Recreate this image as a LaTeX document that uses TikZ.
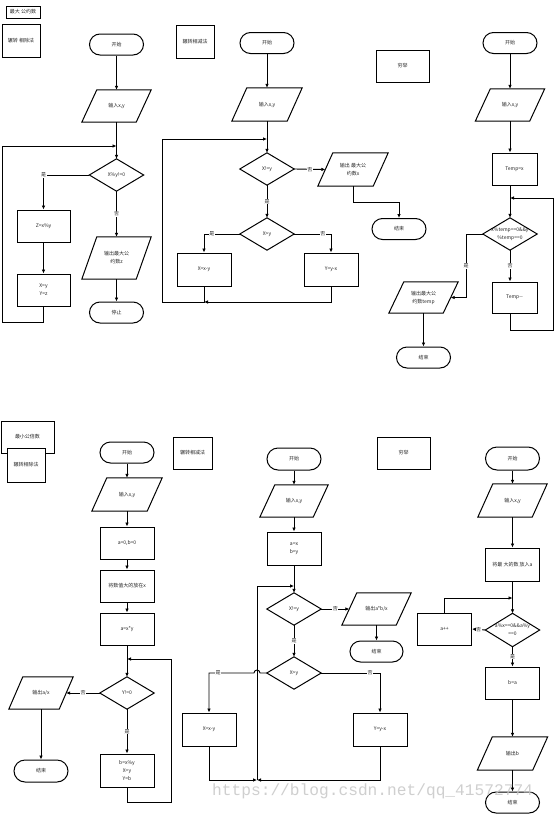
\documentclass[tikz,border=0pt]{standalone}
\usepackage{fontspec}
\newfontfamily\cjk{Noto Sans CJK SC}
\newfontfamily\wmfont{Liberation Mono}
\usetikzlibrary{arrows.meta,calc}
\tikzset{
  base/.style={font=\cjk\fontsize{5}{8}\selectfont, align=center, inner sep=0pt, text=black!85},
  pbox/.style={base, draw, line width=1pt, minimum width=54pt, minimum height=32pt},
  lbox/.style={pbox, fill=white},
  term/.style={base, draw, line width=1pt, rounded corners=10.5pt, minimum width=54pt, minimum height=21pt},
  shp/.style={base, minimum width=54pt, minimum height=32pt},
  conn/.style={line width=0.9pt, -{Latex[length=4pt,width=3.6pt]}},
  line/.style={line width=0.9pt},
  lab/.style={base, fill=white, inner sep=0.6pt},
}
\newcommand\iodraw[2][15]{\draw[line width=1pt] (#2.south west) -- ([xshift=#1pt]#2.north west) -- (#2.north east) -- ([xshift=-#1pt]#2.south east) -- cycle;}
\newcommand\diadraw[1]{\draw[line width=1pt] (#1.north) -- (#1.east) -- (#1.south) -- (#1.west) -- cycle;}
\begin{document}
\begin{tikzpicture}[x=1pt,y=-1pt]
\useasboundingbox (0,0) rectangle (554,814);
\fill[white] (0,0) rectangle (554,814);

% ================= top: labels
\node[lbox, minimum width=34pt, minimum height=12pt] (L1) at (23,12) {最大 公约数};
\node[lbox, minimum width=38pt, minimum height=33pt] (L2) at (21,40.5) {辗转 相除法};
\node[lbox, minimum width=38pt, minimum height=33pt] (L3) at (195,41.5) {辗转相减法};
\node[lbox, minimum width=53pt, minimum height=32pt] (L4) at (402.5,66) {穷举};

% ================= flow A
\node[term] (a1) at (116.5,44.5) {开始};
\node[shp, minimum width=69pt] (a2) at (116.5,106) {输入x,y}; \iodraw{a2}
\node[shp] (a3) at (116.5,175) {X\%y!=0}; \diadraw{a3}
\node[pbox, minimum width=53pt] (a4) at (43.5,226) {Z=x\%y};
\node[pbox, minimum width=53pt] (a5) at (43.5,290) {X=y\\Y=z};
\node[shp, minimum width=69pt, minimum height=42pt] (a6) at (116.5,258) {输出最大公\\约数z}; \iodraw{a6}
\node[term] (a7) at (116.5,312.5) {停止};
\coordinate (aj) at (116.5,146);
\coordinate (ak) at (2,322);
\draw[conn] (a1) -- (a2);
\draw[conn] (a2.south) -- (a3.north);
\draw[conn] (a3.west) -| node[lab,pos=0.5]{是} (a4.north);
\draw[conn] (a4) -- (a5);
\draw[conn] (a5.south) |- (ak) |- (aj);
\draw[conn] (a3.south) -- node[lab]{否} (a6.north);
\draw[conn] (a6) -- (a7);

% ================= flow B
\node[term] (b1) at (267,43) {开始};
\node[shp, minimum width=70pt, minimum height=33pt] (b2) at (267,104.5) {输入x,y}; \iodraw{b2}
\node[shp] (b3) at (267,169) {X!=y}; \diadraw{b3}
\node[shp, minimum width=70pt, minimum height=33pt] (b4) at (353,169.5) {输出 最大公\\约数x}; \iodraw{b4}
\node[term] (b5) at (399,229) {结束};
\node[shp] (b6) at (267,234) {X>y}; \diadraw{b6}
\node[pbox, minimum height=33pt] (b7) at (204,269.5) {X=x-y};
\node[pbox, minimum height=33pt] (b8) at (331,269.5) {Y=y-x};
\coordinate (bj) at (267,139);
\coordinate (bk) at (204,302);
\coordinate (bl) at (162,302);
\draw[conn] (b1) -- (b2);
\draw[conn] (b2.south) -- (b3.north);
\draw[conn] (b3.east) -- node[lab]{否} ([xshift=7.5pt]b4.west);
\draw[conn] (b4.south) -- ++(0,16) -| (b5.north);
\draw[conn] (b3.south) -- node[lab]{是} (b6.north);
\draw[conn] (b6.west) -| node[lab,pos=0.39]{是} (b7.north);
\draw[conn] (b6.east) -| node[lab,pos=0.39]{否} (b8.north);
\draw[conn] (b8.south) |- (bk);
\draw[conn] (b7.south) -- (bk) -- (bl) |- (bj);

% ================= flow C
\node[term] (c1) at (510,43) {开始};
\node[shp, minimum width=69pt] (c2) at (510,105) {输入x,y}; \iodraw{c2}
\node[pbox, minimum width=45pt] (c3) at (514.5,169) {Temp=x};
\node[shp] (c4) at (510,234) {x\%temp==0\&\&y\\\%temp==0}; \diadraw{c4}
\node[pbox, minimum width=45pt, minimum height=31pt] (c5) at (514.5,297.5) {Temp-{}-};
\node[shp, minimum width=69pt, minimum height=31pt] (c6) at (423.5,297.5) {输出最大公\\约数temp}; \iodraw{c6}
\node[term] (c7) at (423.5,357.5) {结束};
\coordinate (cj) at (510,198);
\coordinate (ck) at (553,330);
\coordinate (cl) at (466,234);
\draw[conn] (c1) -- (c2);
\draw[conn] (c2.south) -- (c2.south |- c3.north);
\draw[conn] (c4 |- c3.south) -- (c4.north);
\draw[conn] (c4.south) -- node[lab]{否} (c4 |- c5.north);
\draw[conn] (c4 |- c5.south) |- (ck) |- (cj);
\draw[conn] (c4.west) -- (cl) -- node[lab]{是} (cl |- c6.east) -- ([xshift=-7.5pt]c6.east);
\draw[conn] (c6) -- (c7);

% ================= bottom: labels
\node[lbox, minimum width=53pt, minimum height=32pt] (L5) at (27.5,437) {最小公倍数};
\node[lbox, minimum width=38pt, minimum height=34pt] (L6) at (26,465) {辗转相除法};
\node[lbox, minimum width=39pt, minimum height=32pt] (L7) at (192.5,453) {辗转相减法};
\node[lbox, minimum width=53pt, minimum height=32pt] (L8) at (403.5,453) {穷举};

% ================= flow D
\node[term] (d1) at (127,452.5) {开始};
\node[shp, minimum width=70pt, minimum height=33pt] (d2) at (127,494.5) {输入x,y}; \iodraw{d2}
\node[pbox] (d3) at (127,543) {a=0,b=0};
\node[pbox] (d4) at (127,586) {将数值大的放在x};
\node[pbox] (d5) at (127,629) {a=x*y};
\node[shp] (d6) at (127,693) {Y!=0}; \diadraw{d6}
\node[shp, minimum width=64pt] (d7) at (41,693) {输出a/x}; \iodraw[14]{d7}
\node[term, minimum height=22pt, rounded corners=11pt] (d8) at (41,771) {结束};
\node[pbox, minimum height=33pt] (d9) at (127,770.5) {b=x\%y\\X=y\\Y=b};
\coordinate (dj) at (127,659);
\coordinate (dk) at (171,802);
\draw[conn] (d1) -- (d2);
\draw[conn] (d2.south) -- (d3.north);
\draw[conn] (d3) -- (d4);
\draw[conn] (d4) -- (d5);
\draw[conn] (d5.south) -- (d6.north);
\draw[conn] (d6.west) -- node[lab]{否} ([xshift=-7pt]d7.east);
\draw[conn] (d7.south) -- (d8.north);
\draw[conn] (d6.south) -- node[lab]{是} (d9.north);
\draw[conn] (d9.south) |- (dk) |- (dj);

% ================= flow E
\node[term, minimum height=22pt, rounded corners=11pt] (e1) at (294,459) {开始};
\node[shp, minimum width=68pt] (e2) at (294,501) {输入x,y}; \iodraw{e2}
\node[pbox, minimum height=33pt] (e3) at (294,548.5) {a=x\\b=y};
\node[shp] (e4) at (294,609) {X!=y}; \diadraw{e4}
\node[shp, minimum width=69pt] (e5) at (376.5,609) {输出a*b/x}; \iodraw{e5}
\node[term, minimum width=53pt] (e6) at (376.5,651.5) {结束};
\node[shp] (e7) at (294,673) {X>y}; \diadraw{e7}
\node[pbox, minimum height=33pt] (e8) at (209,729.5) {X=x-y};
\node[pbox, minimum height=33pt] (e9) at (380,729.5) {Y=y-x};
\coordinate (ej) at (294,586);
\coordinate (ek) at (257,780);
\coordinate (el) at (257,586);
\draw[conn] (e1) -- (e2);
\draw[conn] (e2.south) -- (e3.north);
\draw[conn] (e3.south) -- (e4.north);
\draw[conn] (e4.east) -- node[lab]{否} ([xshift=7.5pt]e5.west);
\draw[conn] (e5.south) -- (e6.north);
\draw[conn] (e4.south) -- node[lab]{是} (e7.north);
\draw[conn] (e7.west) -- (260,673) arc[start angle=0,end angle=-180,radius=3] -- node[lab,pos=0.8]{是} (e8.north |- e7.west) -- (e8.north);
\draw[conn] (e7.east) -| node[lab,pos=0.415]{否} (e9.north);
\draw[conn] (e8.south) |- (ek);
\draw[conn] (e9.south) |- (ek);
\draw[conn] (ek) -- (el) -- (ej);

% ================= flow F
\node[term, minimum height=23pt, rounded corners=11.5pt] (f1) at (512.5,458.5) {开始};
\node[shp, minimum width=69pt, minimum height=33pt] (f2) at (512.5,500.5) {输入x,y}; \iodraw{f2}
\node[pbox, minimum height=33pt] (f3) at (512.5,564.5) {将最 大的数 放入a};
\node[shp, minimum height=33pt] (f4) at (512.5,630) {a\%x==0\&\&a\%y\\==0}; \diadraw{f4}
\node[pbox] (f5) at (444.5,629) {a++};
\node[pbox] (f6) at (512.5,683) {b=a};
\node[shp, minimum width=70pt, minimum height=33pt] (f7) at (512.5,753.5) {输出b}; \iodraw{f7}
\node[term] (f8) at (512.5,802.5) {结束};
\coordinate (fj) at (512.5,598);
\draw[conn] (f1) -- (f2);
\draw[conn] (f2.south) -- (f3.north);
\draw[conn] (f3.south) -- (f4.north);
\draw[conn] (f4.west) -- node[lab]{否} (f5.east);
\draw[conn] (f5.north) |- (fj);
\draw[conn] (f4.south) -- node[lab]{是} (f6.north);
\draw[conn] (f6.south) -- (f7.north);
\draw[conn] (f7.south) -- (f8.north);

% ================= watermark
\node[font=\wmfont\fontsize{16.2}{16}\selectfont, text=black!22, text opacity=0.85, anchor=base west, inner sep=0pt] (wm) at (212,795) {https://blog.csdn.net/qq\_41572774};
\end{tikzpicture}
\end{document}
